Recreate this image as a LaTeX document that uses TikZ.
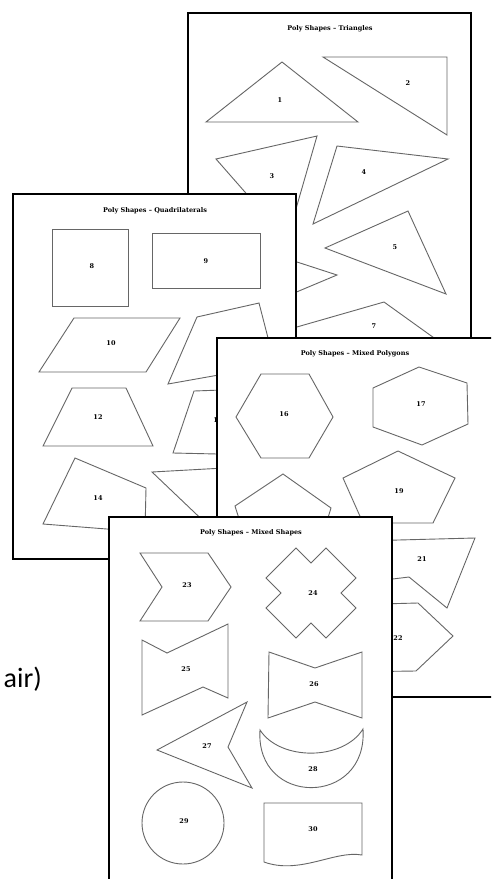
\documentclass[tikz,border=0pt]{standalone}
\usepackage{fontspec}
\setmainfont{Carlito}
\newfontfamily\sheetfont{DejaVu Serif}
\begin{document}
\begin{tikzpicture}[x=1pt,y=-1pt,
  page/.style={draw=black,fill=white,line width=1.5pt},
  shp/.style={draw=black!60,line width=0.9pt},
  lbl/.style={font=\sheetfont\bfseries\fontsize{6.5}{6.5}\selectfont,inner sep=0pt},
  ttl/.style={font=\sheetfont\bfseries\fontsize{6.5}{7}\selectfont,inner sep=0pt}]
\useasboundingbox (0,0) rectangle (491,879);
\clip (0,0) rectangle (491,879);

% sheet 1 - triangles
\draw[page] (188,13) rectangle (471,420);
\node[ttl] (title1) at (330,29) {Poly Shapes – Triangles};
\draw[shp] (206,122) -- (282,62) -- (358,122) -- cycle;
\draw[shp] (323,57) -- (447,57) -- (447,135) -- cycle;
\draw[shp] (216,159) -- (317,136) -- (287,240) -- cycle;
\draw[shp] (337,146) -- (448,159) -- (313,224) -- cycle;
\draw[shp] (325,248) -- (408,211) -- (446,294) -- cycle;
\draw[shp] (217,236) -- (337,275) -- (237,317) -- cycle;
\draw[shp] (262,337) -- (384,302) -- (462,358) -- cycle;
\node[lbl] (n1) at (280,100) {1};
\node[lbl] (n2) at (408,83) {2};
\node[lbl] (n3) at (272,176) {3};
\node[lbl] (n4) at (364,172) {4};
\node[lbl] (n5) at (395,247) {5};
\node[lbl] (n7) at (374,326) {7};

% sheet 2 - quadrilaterals
\draw[page] (13,194) rectangle (296,559);
\node[ttl] (title2) at (155,211) {Poly Shapes – Quadrilaterals};
\draw[shp] (52,229) rectangle (128,306);
\draw[shp] (152,233) rectangle (260,288);
\draw[shp] (39,372) -- (74,318) -- (180,318) -- (146,372) -- cycle;
\draw[shp] (197,317) -- (259,303) -- (275,365) -- (168,384) -- cycle;
\draw[shp] (43,446) -- (72,388) -- (126,388) -- (153,446) -- cycle;
\draw[shp] (173,453) -- (194,391) -- (250,389) -- (262,455) -- cycle;
\draw[shp] (43,524) -- (75,458) -- (146,488) -- (145,532) -- cycle;
\draw[shp] (152,472) -- (260,466) -- (250,540) -- (215,532) -- cycle;
\node[lbl] (n8) at (92,266) {8};
\node[lbl] (n9) at (206,261) {9};
\node[lbl] (n10) at (111,343) {10};
\node[lbl] (n11) at (232,341) {11};
\node[lbl] (n12) at (98,417) {12};
\node[lbl] (n13) at (218,420) {13};
\node[lbl] (n14) at (98,498) {14};
\node[lbl] (n15) at (221,495) {15};

% sheet 3 - mixed polygons
\draw[page] (217,338) rectangle (500,697);
\node[ttl] (title3) at (355,354) {Poly Shapes – Mixed Polygons};
\draw[shp] (236,417) -- (261,374) -- (309,374) -- (333,417) -- (309,458) -- (261,458) -- cycle;
\draw[shp] (373,388) -- (419,367) -- (467,383) -- (468,424) -- (422,445) -- (373,427) -- cycle;
\draw[shp] (283,474) -- (331,508) -- (315,560) -- (252,560) -- (235,506) -- cycle;
\draw[shp] (398,451) -- (455,478) -- (433,523) -- (363,523) -- (343,478) -- cycle;
\draw[shp] (360,541) -- (475,538) -- (447,608) -- (409,577) -- (360,583) -- cycle;
\draw[shp] (340,605) -- (418,603) -- (453,636) -- (416,671) -- (340,672) -- cycle;
\node[lbl] (n16) at (284,414) {16};
\node[lbl] (n17) at (421,404) {17};
\node[lbl] (n19) at (399,491) {19};
\node[lbl] (n21) at (422,559) {21};
\node[lbl] (n22) at (398,638) {22};

% sheet 4 - mixed shapes
\draw[page] (109,517) rectangle (392,890);
\node[ttl] (title4) at (251,533) {Poly Shapes – Mixed Shapes};
\draw[shp] (140,553) -- (208,553) -- (231,587) -- (208,621) -- (140,621) -- (162,587) -- cycle;
\draw[shp] (296,548) -- (311,563) -- (326,548) -- (356,578) -- (341,593) -- (356,608)
  -- (326,638) -- (311,623) -- (296,638) -- (266,608) -- (281,593) -- (266,578) -- cycle;
\draw[shp] (142,640) -- (167,653) -- (228,624) -- (228,698) -- (203,687) -- (142,715) -- cycle;
\draw[shp] (269,652) -- (315,668) -- (362,652) -- (362,718) -- (315,702) -- (268,718) -- cycle;
\draw[shp] (157,750) -- (247,702) -- (228,747) -- (252,788) -- cycle;
\draw[shp] (260,730) .. controls (280,761) and (343,761) .. (363,729)
  .. controls (368,807) and (255,807) .. cycle;
\draw[shp] (183,823) circle[radius=41pt];
\draw[shp] (264,803) -- (362,803) -- (362,855) .. controls (335,850) and (300,875) .. (264,862) -- cycle;
\node[lbl] (n23) at (187,585) {23};
\node[lbl] (n24) at (313,593) {24};
\node[lbl] (n25) at (186,669) {25};
\node[lbl] (n26) at (314,684) {26};
\node[lbl] (n27) at (207,746) {27};
\node[lbl] (n28) at (313,769) {28};
\node[lbl] (n29) at (184,821) {29};
\node[lbl] (n30) at (313,829) {30};

% cut-off caption at the left
\node[anchor=base east,inner sep=0pt,font=\fontsize{28}{28}\selectfont] (pairtxt) at (42,687) {air)};
\end{tikzpicture}
\end{document}
